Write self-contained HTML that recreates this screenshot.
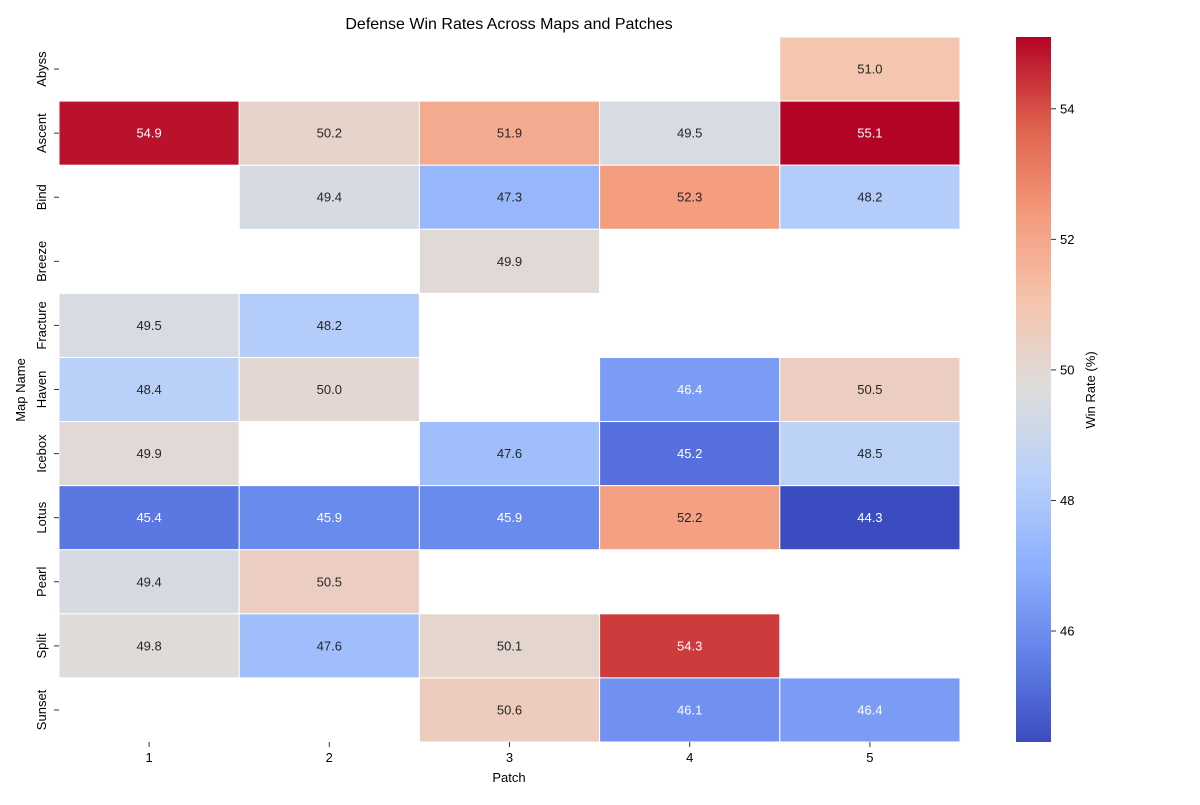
<!DOCTYPE html>
<html><head><meta charset="utf-8"><style>body{margin:0;background:#fff}svg{font-family:"Liberation Sans","DejaVu Sans",sans-serif}</style></head>
<body>
<svg id="c" width="1200" height="800" xmlns="http://www.w3.org/2000/svg">
<defs><linearGradient id="cg" x1="0" y1="1" x2="0" y2="0"></linearGradient></defs>
<text x="509" y="29" font-size="16" text-anchor="middle">Defense Win Rates Across Maps and Patches</text>
<g id="cells"></g><g id="axes"></g>
<text x="509" y="782" font-size="13" text-anchor="middle">Patch</text>
<text transform="translate(25,390) rotate(-90)" font-size="13" text-anchor="middle">Map Name</text>
<rect x="1016" y="37" width="35" height="705" fill="url(#cg)"/>
<g id="cbt"></g>
<text transform="translate(1095,390) rotate(-90)" font-size="13" text-anchor="middle">Win Rate (%)</text>
</svg>
<script>
const maps=["Abyss","Ascent","Bind","Breeze","Fracture","Haven","Icebox","Lotus","Pearl","Split","Sunset"];
const patches=["1","2","3","4","5"];
const values=[
[null,null,null,null,51.0],
[54.9,50.2,51.9,49.5,55.1],
[null,49.4,47.3,52.3,48.2],
[null,null,49.9,null,null],
[49.5,48.2,null,null,null],
[48.4,50.0,null,46.4,50.5],
[49.9,null,47.6,45.2,48.5],
[45.4,45.9,45.9,52.2,44.3],
[49.4,50.5,null,null,null],
[49.8,47.6,50.1,54.3,null],
[null,null,50.6,46.1,46.4]];
const cbTicks=[46,48,50,52,54];
const NS="http://www.w3.org/2000/svg";
const x0=59,x1=960,y0=37,y1=742;
const cw=(x1-x0)/patches.length,ch=(y1-y0)/maps.length;
const all=values.flat().filter(v=>v!==null);
const vmin=Math.min(...all),vmax=Math.max(...all);
const stops=[[59,76,192],[98,130,234],[141,176,254],[184,208,249],[221,221,221],[245,196,173],[244,154,123],[222,96,76],[180,4,38]];
function cmap(t){t=Math.max(0,Math.min(1,t));const p=t*8,i=Math.min(7,Math.floor(p)),f=p-i;return stops[i].map((a,k)=>Math.round(a+(stops[i+1][k]-a)*f));}
function el(t,a,par){const e=document.createElementNS(NS,t);for(const k in a)e.setAttribute(k,a[k]);par.appendChild(e);return e;}
const g=document.getElementById('cells'),ax=document.getElementById('axes');
values.forEach((row,r)=>row.forEach((v,c)=>{if(v===null)return;
const col=cmap((v-vmin)/(vmax-vmin));
const rc=el('rect',{x:x0+c*cw,y:y0+r*ch,width:cw,height:ch,fill:`rgb(${col})`,stroke:'#fff','stroke-width':1},g);


const lin=col.map(x=>{x/=255;return x<=0.03928?x/12.92:Math.pow((x+0.055)/1.055,2.4)});
const L=0.2126*lin[0]+0.7152*lin[1]+0.0722*lin[2];
const tx=el('text',{x:x0+(c+.5)*cw,y:y0+(r+.5)*ch+4.5,'font-size':13,'text-anchor':'middle',fill:L>0.408?'#262626':'#fff'},g);
tx.textContent=v.toFixed(1);


}));
patches.forEach((p,c)=>{const x=x0+(c+.5)*cw;el('line',{x1:x,x2:x,y1:y1,y2:y1+5,stroke:'#333'},ax);
const t=el('text',{x:x,y:y1+20,'font-size':13,'text-anchor':'middle'},ax);t.textContent=p;

});
maps.forEach((m,r)=>{const y=y0+(r+.5)*ch;el('line',{x1:x0-5,x2:x0,y1:y,y2:y,stroke:'#333'},ax);
const t=el('text',{transform:`translate(${x0-13},${y}) rotate(-90)`,'font-size':13,'text-anchor':'middle'},ax);t.textContent=m;

});
const gr=document.getElementById('cg');
for(let i=0;i<=16;i++){const s=el('stop',{offset:(i/16),'stop-color':`rgb(${cmap(i/16)})`},gr);}
const cb=document.getElementById('cbt');
cbTicks.forEach(v=>{const y=y1-(v-vmin)/(vmax-vmin)*(y1-y0);el('line',{x1:1051,x2:1056,y1:y,y2:y,stroke:'#333'},cb);
const t=el('text',{x:1060,y:y+4.5,'font-size':13},cb);t.textContent=v;

});
</script>
</body></html>
